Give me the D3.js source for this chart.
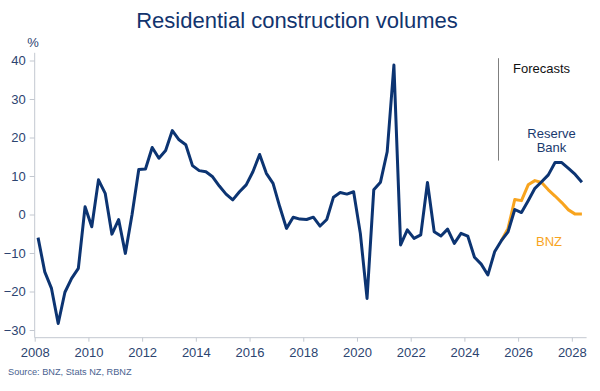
<!DOCTYPE html>
<html>
<head>
<meta charset="utf-8">
<script src="https://cdn.jsdelivr.net/npm/d3@7"></script>
<style>
  html, body { margin: 0; padding: 0; background: #fff; }
  svg { display: block; font-family: "Liberation Sans", Arial, sans-serif; }
</style>
</head>
<body>
<svg id="chart" width="600" height="391"></svg>
<script>
// ---- Data (quarterly, % annual change) ----
const startYear = 2008;            // first quarter: 2008 Q1
const actualValues = [
  -6.0, -14.9, -19.2, -28.3,
  -20.2, -16.6, -14.0, 2.0,
  -3.2, 9.0, 5.5, -5.1,
  -1.3, -10.1, 0.0, 11.7,
  11.8, 17.4, 14.6, 16.6,
  21.8, 19.4, 18.1, 12.7,
  11.4, 11.1, 9.8, 7.4,
  5.3, 3.8, 5.9, 7.7,
  11.1, 15.6, 10.7, 8.1,
  2.0, -3.6, -0.7, -1.2,
  -1.3, -0.7, -3.0, -1.3,
  4.5, 5.7, 5.3, 5.9,
  -4.9, -21.8, 6.4, 8.4,
  16.3, 38.8, -7.9, -4.0,
  -6.2, -5.3, 8.3, -4.5,
  -5.6, -3.8, -7.5, -4.9,
  -5.6, -11.1, -12.9, -15.7,
  -9.7, -6.8
];
// Forecasts start at the last actual quarter (2025 Q2)
const forecastStartIndex = 69;
const rbnzForecast = [-6.8, -4.5, 1.3, 0.5, 3.6, 6.8, 8.5, 10.3, 13.5, 13.5, 12.0, 10.4, 8.4];
const bnzForecast  = [-6.8, -3.6, 3.9, 3.6, 7.7, 8.8, 8.3, 6.4, 4.8, 3.1, 1.2, 0.1, 0.1];
const xTickYears = [2008, 2010, 2012, 2014, 2016, 2018, 2020, 2022, 2024, 2026, 2028];
const yTickValues = [-30, -20, -10, 0, 10, 20, 30, 40];
const forecastMarkerYear = 2025.27;
const titleText = "Residential construction volumes";
const sourceText = "Source: BNZ, Stats NZ, RBNZ";

// ---- Layout ----
const svg = d3.select("#chart");
const navy = "#0c3472";
const orange = "#f8a41e";
const axisGrey = "#c3c8d0";
const tickText = "#2c4470";

const x = d3.scaleLinear().domain([2008, 2028.55]).range([34.7, 586.6]);
const y = d3.scaleLinear().domain([-32, 42]).range([337.7, 52.8]);

const qYear = i => startYear + i * 0.25 + 0.125;

const actualPts = actualValues.map((v, i) => ({ t: qYear(i), v }));
const rbnzPts = rbnzForecast.map((v, i) => ({ t: qYear(forecastStartIndex + i), v }));
const bnzPts = bnzForecast.map((v, i) => ({ t: qYear(forecastStartIndex + i), v }));

// Title
svg.append("text")
  .attr("x", 297).attr("y", 28)
  .attr("text-anchor", "middle")
  .attr("font-size", 22)
  .attr("fill", "#12346e")
  .text(titleText);

// Y axis
const yAxis = d3.axisLeft(y).tickValues(yTickValues).tickSize(5).tickPadding(4).tickFormat(d3.format("d"));
const gy = svg.append("g").attr("transform", `translate(${x(2008)},0)`).call(yAxis);
gy.select(".domain").attr("stroke", axisGrey).attr("d", `M0,${y(42)}V${y(-32)}`);
gy.selectAll(".tick line").attr("stroke", axisGrey);
gy.selectAll(".tick text").attr("fill", tickText).attr("font-size", 13)
  .attr("font-family", "Liberation Sans, Arial, sans-serif");

// X axis
const xAxis = d3.axisBottom(x).tickValues(xTickYears).tickSize(4).tickPadding(6).tickFormat(d3.format("d"));
const gx = svg.append("g").attr("transform", `translate(0,${y(-32)})`).call(xAxis);
gx.select(".domain").attr("stroke", axisGrey).attr("d", `M${x(2008)},0H${x(2028.55)}`);
gx.selectAll(".tick line").attr("stroke", axisGrey);
gx.selectAll(".tick text").attr("fill", tickText).attr("font-size", 13)
  .attr("font-family", "Liberation Sans, Arial, sans-serif");

// % label
svg.append("text").attr("x", 33).attr("y", 47).attr("text-anchor", "middle")
  .attr("font-size", 13).attr("fill", tickText).text("%");

// Forecast marker line
svg.append("line")
  .attr("x1", x(forecastMarkerYear)).attr("x2", x(forecastMarkerYear))
  .attr("y1", y(40.6)).attr("y2", y(14))
  .attr("stroke", "#7f7f7f").attr("stroke-width", 1);

svg.append("text").attr("x", 513).attr("y", 73)
  .attr("font-size", 13).attr("fill", "#111").text("Forecasts");

// Lines
const line = d3.line().x(d => x(d.t)).y(d => y(d.v)).curve(d3.curveLinear);

svg.append("path").datum(bnzPts).attr("d", line)
  .attr("fill", "none").attr("stroke", orange).attr("stroke-width", 3)
  .attr("stroke-linejoin", "round");

svg.append("path").datum(actualPts.concat(rbnzPts.slice(1))).attr("d", line)
  .attr("fill", "none").attr("stroke", navy).attr("stroke-width", 3)
  .attr("stroke-linejoin", "round");

// Series labels
const rb = svg.append("text").attr("text-anchor", "middle").attr("font-size", 13).attr("fill", "#1a3a6e");
rb.append("tspan").attr("x", 551.5).attr("y", 137.5).text("Reserve");
rb.append("tspan").attr("x", 551.5).attr("y", 152).text("Bank");

svg.append("text").attr("x", 549).attr("y", 245.5).attr("text-anchor", "middle")
  .attr("font-size", 13).attr("fill", orange).text("BNZ");

// Source
svg.append("text").attr("x", 8).attr("y", 375)
  .attr("font-size", 9.2).attr("fill", "#4a6290").text(sourceText);
</script>
</body>
</html>
